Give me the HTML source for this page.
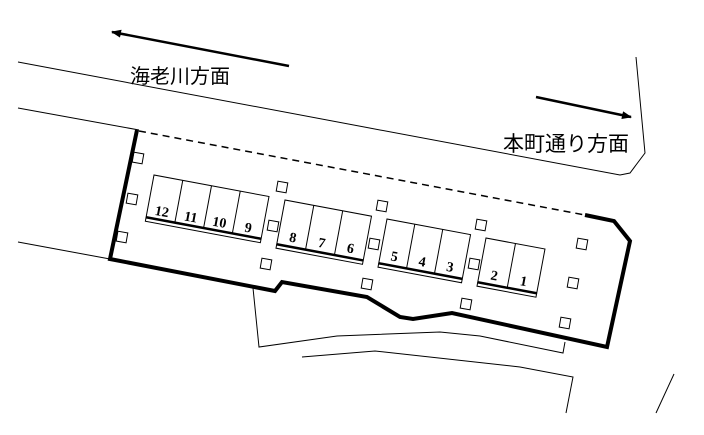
<!DOCTYPE html>
<html><head><meta charset="utf-8"><style>
html,body{margin:0;padding:0;background:#fff;width:704px;height:435px;overflow:hidden}
svg{display:block}
.n{font-family:"Liberation Serif",serif;font-weight:bold;font-size:14px;text-anchor:middle}
</style></head><body>
<svg width="704" height="435" viewBox="0 0 704 435" xmlns="http://www.w3.org/2000/svg">
<defs>
<marker id="ah" markerWidth="10" markerHeight="8" refX="9" refY="4" orient="auto" markerUnits="userSpaceOnUse">
<path d="M0,0 L10,4 L0,8 z" fill="#000"/></marker>
</defs>
<g fill="none" stroke="#000" stroke-width="1">
<polyline points="18,62 620,175 630,173 645,153 636,57"/>
<line x1="18" y1="108" x2="139" y2="130"/>
<line x1="18" y1="242" x2="110" y2="259"/>
<polyline points="253,288 259,347 337,336 440,332 480,336 563,353 565,342"/>
<polyline points="302,357 375,351 520,367 573,377 566,413"/>
<line x1="674" y1="374" x2="656" y2="413"/>
</g>
<line x1="289" y1="66" x2="112" y2="32" stroke="#000" stroke-width="2.5" marker-end="url(#ah)"/>
<line x1="536" y1="97" x2="631" y2="117" stroke="#000" stroke-width="2.5" marker-end="url(#ah)"/>
<text x="130" y="83" font-family="'Liberation Sans','Noto Sans CJK JP',sans-serif" font-size="20">海老川方面</text>
<text x="503" y="151" font-family="'Liberation Sans','Noto Sans CJK JP',sans-serif" font-size="21">本町通り方面</text>
<line x1="139" y1="131" x2="585" y2="215" stroke="#000" stroke-width="1.5" stroke-dasharray="7,5"/>
<polyline fill="none" stroke="#000" stroke-width="4" stroke-linejoin="miter" points="585,215 614,221 630,241 607,347 452,313 413,319 400,317 367,297 282,282 275,291 110,259 137,130"/>
<g fill="none" stroke="#000" stroke-width="1">
<rect x="133" y="153" width="10" height="10" transform="rotate(10 138 158)"/>
<rect x="127" y="194" width="10" height="10" transform="rotate(10 132 199)"/>
<rect x="117" y="232" width="10" height="10" transform="rotate(10 122 237)"/>
<rect x="277" y="182" width="10" height="10" transform="rotate(10 282 187)"/>
<rect x="268" y="221" width="10" height="10" transform="rotate(10 273 226)"/>
<rect x="261" y="259" width="10" height="10" transform="rotate(10 266 264)"/>
<rect x="377" y="201" width="10" height="10" transform="rotate(10 382 206)"/>
<rect x="369" y="239" width="10" height="10" transform="rotate(10 374 244)"/>
<rect x="362" y="279" width="10" height="10" transform="rotate(10 367 284)"/>
<rect x="476" y="220" width="10" height="10" transform="rotate(10 481 225)"/>
<rect x="469" y="259" width="10" height="10" transform="rotate(10 474 264)"/>
<rect x="461" y="299" width="10" height="10" transform="rotate(10 466 304)"/>
<rect x="577" y="239" width="10" height="10" transform="rotate(10 582 244)"/>
<rect x="568" y="278" width="10" height="10" transform="rotate(10 573 283)"/>
<rect x="560" y="318" width="10" height="10" transform="rotate(10 565 323)"/>
</g>
<g transform="translate(154,175) rotate(10.6)">
<g fill="none" stroke="#000" stroke-width="1">
<rect x="0" y="0" width="117" height="43"/>
<line x1="29.25" y1="0" x2="29.25" y2="43"/><line x1="58.5" y1="0" x2="58.5" y2="43"/><line x1="87.75" y1="0" x2="87.75" y2="43"/>
<polyline points="0,43 0,47 117,47 117,43"/>
</g>
<line x1="0" y1="43" x2="117" y2="43" stroke="#000" stroke-width="2.5"/>
<text class="n" x="14.6" y="39" font-size="13">12</text>
<text class="n" x="43.9" y="39" font-size="12">11</text>
<text class="n" x="73.1" y="39" font-size="12">10</text>
<text class="n" x="102.4" y="39" font-size="15">9</text>
</g>
<g transform="translate(285,200) rotate(10.6)">
<g fill="none" stroke="#000" stroke-width="1">
<rect x="0" y="0" width="88" height="45"/>
<line x1="29.3" y1="0" x2="29.3" y2="45"/><line x1="58.7" y1="0" x2="58.7" y2="45"/>
<polyline points="0,45 0,49 88,49 88,45"/>
</g>
<line x1="0" y1="45" x2="88" y2="45" stroke="#000" stroke-width="2.5"/>
<text class="n" x="14.7" y="40" font-size="15">8</text>
<text class="n" x="44" y="40" font-size="15">7</text>
<text class="n" x="73.3" y="40" font-size="15">6</text>
</g>
<g transform="translate(387,219) rotate(10.6)">
<g fill="none" stroke="#000" stroke-width="1">
<rect x="0" y="0" width="85" height="45"/>
<line x1="28.3" y1="0" x2="28.3" y2="45"/><line x1="56.7" y1="0" x2="56.7" y2="45"/>
<polyline points="0,45 0,49 85,49 85,45"/>
</g>
<line x1="0" y1="45" x2="85" y2="45" stroke="#000" stroke-width="2.5"/>
<text class="n" x="14.2" y="40" font-size="15">5</text>
<text class="n" x="42.5" y="40" font-size="15">4</text>
<text class="n" x="70.8" y="40" font-size="15">3</text>
</g>
<g transform="translate(486,238) rotate(10.6)">
<g fill="none" stroke="#000" stroke-width="1">
<rect x="0" y="0" width="60" height="45"/>
<line x1="30" y1="0" x2="30" y2="45"/>
<polyline points="0,45 0,49 60,49 60,45"/>
</g>
<line x1="0" y1="45" x2="60" y2="45" stroke="#000" stroke-width="2.5"/>
<text class="n" x="15" y="40" font-size="15">2</text>
<text class="n" x="45" y="40" font-size="15">1</text>
</g>
</svg>
</body></html>
